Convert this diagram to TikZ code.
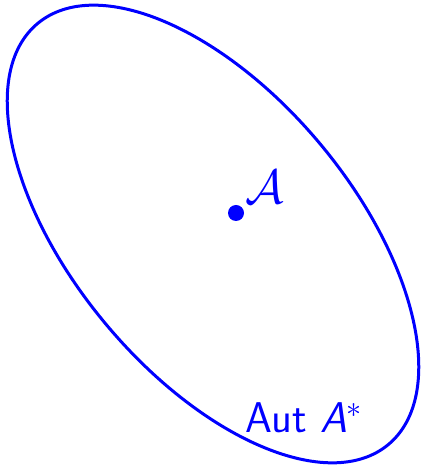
\documentclass[tikz,border=0pt]{standalone}
\usepackage{fix-cm}
\usepackage{fontspec}
\usepackage{amsmath}
\usetikzlibrary{shapes.geometric}
\begin{document}
\begin{tikzpicture}[x=1pt,y=1pt,
  outline/.style={draw=blue, line width=3pt, ellipse, inner sep=0pt,
    minimum width=548pt, minimum height=280pt},
  pt/.style={circle, fill=blue, inner sep=0pt, minimum size=16pt},
  lbl/.style={text=blue, inner sep=0pt}]
\useasboundingbox (0,0) rectangle (421,465);
\node[outline, rotate=-50.2] (E) at (213,231) {};
\node[pt] (d) at (236,252) {};
\node[lbl] (a) at (265,278) {\fontsize{48}{58}\selectfont$\mathcal{A}$};
\node[lbl, anchor=base] (aut) at (304,32) {\fontsize{43}{52}\selectfont\sffamily Aut \textit{A}$^*$};
\end{tikzpicture}
\end{document}
